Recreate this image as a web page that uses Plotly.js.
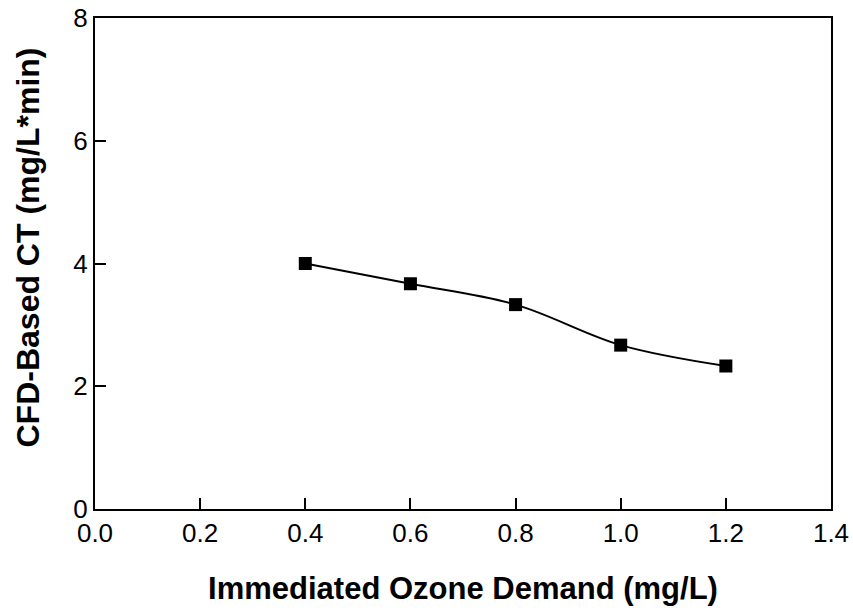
<!DOCTYPE html>
<html>
<head>
<meta charset="utf-8">
<script src="https://cdn.plot.ly/plotly-3.0.1.min.js"></script>
<style>html,body{margin:0;padding:0;background:#fff;}#chart{width:853px;height:612px;}</style>
</head>
<body>
<div id="chart"></div>
<script>
const ozoneDemand = [0.4, 0.6, 0.8, 1.0, 1.2];
const cfdCT = [4.0, 3.67, 3.33, 2.67, 2.33];
const xTicks = [0.0, 0.2, 0.4, 0.6, 0.8, 1.0, 1.2, 1.4];
const xTickLabels = ["0.0", "0.2", "0.4", "0.6", "0.8", "1.0", "1.2", "1.4"];
const yTicks = [0, 2, 4, 6, 8];
const xTitle = 'Immediated Ozone Demand (mg/L)';
const yTitle = 'CFD-Based CT (mg/L*min)';

const trace = {
  x: ozoneDemand,
  y: cfdCT,
  mode: 'lines+markers',
  line: {color: '#000', width: 2, shape: 'spline', smoothing: 1},
  marker: {symbol: 'square', size: 13, color: '#000'},
  showlegend: false,
  cliponaxis: false
};

const layout = {
  width: 853, height: 612,
  margin: {l: 95, r: 22, t: 18, b: 103},
  paper_bgcolor: '#fff', plot_bgcolor: '#fff',
  font: {family: 'Arial, Liberation Sans, sans-serif', color: '#000', size: 26},
  xaxis: {
    range: [0, 1.4], tickvals: xTicks, ticktext: xTickLabels,
    ticks: 'inside', ticklen: 11, tickwidth: 2, tickcolor: '#000',
    showline: true, linecolor: '#000', linewidth: 2, mirror: true,
    showgrid: false, zeroline: false,
    tickfont: {size: 26},
    title: {text: '<b>' + xTitle + '</b>', font: {size: 31}, standoff: 30}
  },
  yaxis: {
    range: [0, 8], tickvals: yTicks,
    ticks: 'inside', ticklen: 11, tickwidth: 2, tickcolor: '#000',
    showline: true, linecolor: '#000', linewidth: 2, mirror: true,
    showgrid: false, zeroline: false,
    tickfont: {size: 26}
  },
  annotations: [{
    text: '<b>' + yTitle + '</b>', textangle: -90,
    xref: 'paper', yref: 'paper', x: -0.0917, y: 0.5316,
    xanchor: 'center', yanchor: 'middle', showarrow: false,
    font: {size: 32, color: '#000'}
  }]
};

Plotly.newPlot('chart', [trace], layout, {displayModeBar: false, staticPlot: true});
</script>
</body>
</html>
